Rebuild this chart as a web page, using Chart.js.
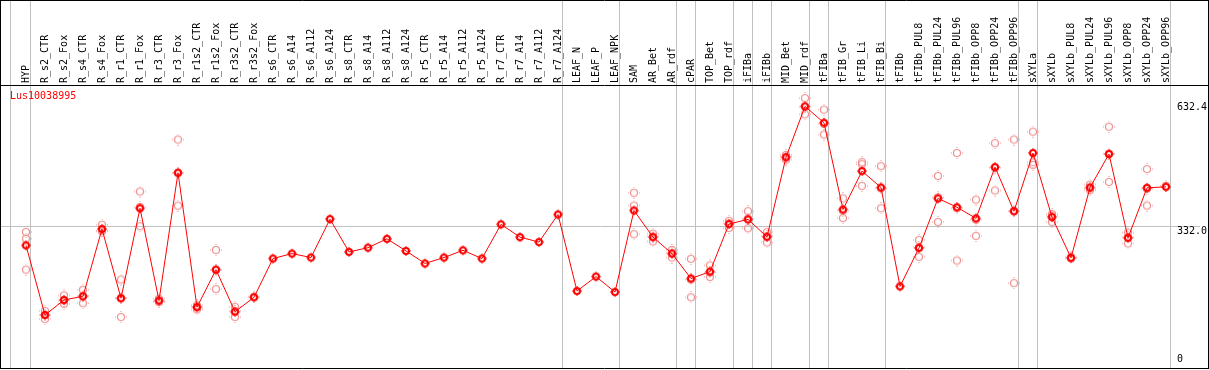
<!DOCTYPE html>
<html>
<head>
<meta charset="utf-8">
<script src="https://cdn.jsdelivr.net/npm/chart.js@4/dist/chart.umd.min.js"></script>
<style>
  body { margin: 0; background: #fff; }
  canvas { display: block; }
</style>
</head>
<body>
<canvas id="exprChart" width="1209" height="370"></canvas>
<script>
const geneName = 'Lus10038995';

const categories = [
  'HYP', 'R_s2_CTR', 'R_s2_Fox', 'R_s4_CTR', 'R_s4_Fox', 'R_r1_CTR', 'R_r1_Fox', 'R_r3_CTR', 'R_r3_Fox',
  'R_r1s2_CTR', 'R_r1s2_Fox', 'R_r3s2_CTR', 'R_r3s2_Fox', 'R_s6_CTR', 'R_s6_A14', 'R_s6_A112', 'R_s6_A124',
  'R_s8_CTR', 'R_s8_A14', 'R_s8_A112', 'R_s8_A124', 'R_r5_CTR', 'R_r5_A14', 'R_r5_A112', 'R_r5_A124',
  'R_r7_CTR', 'R_r7_A14', 'R_r7_A112', 'R_r7_A124', 'LEAF_N', 'LEAF_P', 'LEAF_NPK', 'SAM', 'AR_Bet', 'AR_rdf',
  'cPAR', 'TOP_Bet', 'TOP_rdf', 'iFIBa', 'iFIBb', 'MID_Bet', 'MID_rdf', 'tFIBa', 'tFIB_Gr', 'tFIB_Li', 'tFIB_Bi',
  'tFIBb', 'tFIBb_PUL8', 'tFIBb_PUL24', 'tFIBb_PUL96', 'tFIBb_OPP8', 'tFIBb_OPP24', 'tFIBb_OPP96',
  'sXYLa', 'sXYLb', 'sXYLb_PUL8', 'sXYLb_PUL24', 'sXYLb_PUL96', 'sXYLb_OPP8', 'sXYLb_OPP24', 'sXYLb_OPP96'
];

// mean expression per sample
const means = [
  285.6, 116.8, 153.4, 162.2, 325.5, 157.5, 375.7, 151.8, 461.8,
  136.0, 226.8, 124.8, 159.9, 253.8, 265.8, 256.2, 349.4,
  269.8, 280.1, 301.6, 272.2, 241.9, 256.2, 273.7, 253.8,
  336.7, 305.7, 293.7, 360.6, 175.0, 210.0, 172.6, 370.2, 305.7, 265.8,
  205.3, 222.0, 337.5, 348.7, 306.4, 499.3, 622.6, 582.9, 372.6, 465.8, 425.9,
  186.2, 279.4, 399.6, 378.1, 351.1, 475.4, 368.5,
  509.6, 354.2, 255.5, 425.9, 507.2, 304.0, 425.2, 427.6
];

// replicates (null = not shown)
const rep1 = [
  318, 127, 164.6, 178, 335.8, 202.9, 416.3, 156.5, 542.3,
  140.7, 274.6, 136.7, 161, null, null, null, null,
  null, null, null, null, null, null, null, null,
  null, null, null, null, null, null, null, 413.2, 314.3, 274.6,
  253.1, 237.1, 345.4, 368.5, 317.6, 504.8, 642.7, 614.7, 399.6, 487.3, 477.8,
  null, 298.5, 453.9, 509.6, 396.5, 533.5, 542.3,
  561.4, 361.4, 257, 433, 573.4, 316.7, 470.6, 430
];
const rep2 = [
  302, 107, 143.9, 145.5, 320, 112, 332, 148.6, 382,
  130.3, 179.7, 112, null, null, null, null, null,
  null, null, null, null, null, null, null, null,
  null, null, null, null, null, null, null, 382.1, 295.2, 256.2,
  159.9, 209.1, 327.9, 327.2, 292.8, 493.5, 603.5, 554.2, 351.8, 482.5, 375.7,
  null, 257.9, 342.3, 249, 308.8, 418.7, 194.1,
  487.3, 342.3, 254, 419.5, 439.5, 290.4, 382.2, null
];
const rep3 = [
  227, 117, 152, 163, 321, 158, 379, 150, 461,
  137, 226, 126, null, null, null, null, null,
  null, null, null, null, null, null, null, null,
  null, null, null, null, null, null, null, 312.8, 307, 267,
  203, 220, 339, 350, 308, 500, 622, 580, 370, 430, 424,
  null, 281, 402, 376, 348, 474, 369,
  480.9, 358, null, 425, 508, 305, 423, null
];

const yTickValues = [0, 332.0, 632.4];
const yTickLabels = ['0', '332.0', '632.4'];

// last sample of each group -> separator line
const groupEnds = [0, 28, 31, 34, 35, 37, 38, 39, 41, 42, 45, 52, 53, 60];

const monoFont = '"DejaVu Sans Mono", monospace';

// small ring with 1px stubs
function makeMarker(color, lw, r) {
  let c = document.createElement('canvas');
  c.width = 12; c.height = 12;
  let g = c.getContext('2d');
  g.strokeStyle = color;
  g.fillStyle = color;
  g.lineWidth = lw;
  g.beginPath();
  g.arc(6, 6, r, 0, Math.PI * 2);
  g.stroke();
  let o = Math.floor(6 - r - lw / 2 - 1);
  g.fillRect(5.5, o, 1, 1);
  g.fillRect(5.5, 11 - o, 1, 1);
  g.fillRect(o, 5.5, 1, 1);
  g.fillRect(11 - o, 5.5, 1, 1);
  return c;
}

let repPoints = [];
[rep1, rep2, rep3].forEach(r => {
  r.forEach((v, i) => {
    if (v !== null) repPoints.push({ x: categories[i], y: v });
  });
});

const decor = {
  id: 'decor',
  beforeDatasetsDraw(chart) {
    let ctx = chart.ctx;
    let xs = chart.scales.x, ys = chart.scales.y;
    let H = chart.height;
    ctx.save();
    ctx.strokeStyle = '#c0c0c0';
    ctx.lineWidth = 1;
    ctx.beginPath();
    let x0 = Math.floor(xs.getPixelForValue(0) - 16) + 0.5;
    ctx.moveTo(x0, 0); ctx.lineTo(x0, H - 1);
    groupEnds.forEach(i => {
      let x = Math.floor(xs.getPixelForValue(i) + 4.5) + 0.5;
      ctx.moveTo(x, 0); ctx.lineTo(x, H - 1);
    });
    let gy = Math.floor(ys.getPixelForValue(332.0)) + 0.5;
    ctx.moveTo(1, gy); ctx.lineTo(1200, gy);
    ctx.stroke();
    ctx.restore();
  },
  afterDraw(chart) {
    let ctx = chart.ctx;
    let ys = chart.scales.y;
    let W = chart.width;
    ctx.save();
    ctx.font = '10px ' + monoFont;
    ctx.fillStyle = '#000';
    ctx.textAlign = 'left';
    yTickValues.forEach((v, k) => {
      let y = ys.getPixelForValue(v);
      if (v === 0) {
        ctx.textBaseline = 'bottom';
        ctx.fillText(yTickLabels[k], 1177, y + 1);
      } else {
        ctx.textBaseline = 'top';
        ctx.fillText(yTickLabels[k], 1177, y);
      }
    });
    ctx.fillStyle = '#ff0000';
    ctx.textBaseline = 'top';
    ctx.fillText(geneName, 10, 91);

    // frame
    ctx.strokeStyle = '#000';
    ctx.lineWidth = 1;
    ctx.beginPath();
    ctx.moveTo(0, 0.5); ctx.lineTo(W, 0.5);
    ctx.moveTo(0, 85.5); ctx.lineTo(W, 85.5);
    ctx.moveTo(0, 368.5); ctx.lineTo(W, 368.5);
    ctx.moveTo(0.5, 0); ctx.lineTo(0.5, 369);
    ctx.moveTo(W - 0.5, 0); ctx.lineTo(W - 0.5, 369);
    ctx.stroke();
    ctx.restore();
  }
};

let ctx = document.getElementById('exprChart').getContext('2d');
let chart = new Chart(ctx, {
  type: 'line',
  data: {
    labels: categories,
    datasets: [
      {
        label: 'mean',
        data: means,
        borderColor: '#ff0000',
        borderWidth: 1,
        tension: 0,
        fill: false,
        pointStyle: makeMarker('#ff0000', 2, 3),
        pointRadius: 4,
        order: 1
      },
      {
        label: 'replicates',
        data: repPoints,
        showLine: false,
        pointStyle: makeMarker('#f09090', 1.2, 3.5),
        pointRadius: 4,
        order: 2
      }
    ]
  },
  plugins: [decor],
  options: {
    responsive: false,
    animation: false,
    devicePixelRatio: 1,
    layout: { padding: { left: 26, right: 0, top: 0, bottom: 1 } },
    plugins: {
      legend: { display: false },
      tooltip: { enabled: false }
    },
    scales: {
      x: {
        type: 'category',
        position: 'top',
        offset: false,
        grid: { display: false, drawTicks: false },
        border: { display: false },
        ticks: {
          autoSkip: false,
          minRotation: 90,
          maxRotation: 90,
          padding: 2,
          labelOffset: 12,
          color: '#000',
          font: { family: monoFont, size: 10 }
        },
        afterFit: s => { s.height = 85; }
      },
      y: {
        position: 'right',
        min: -4.3,
        max: 674.5,
        grid: { display: false },
        border: { display: false },
        ticks: { display: false },
        afterFit: s => { s.width = 43; }
      }
    }
  }
});
</script>
</body>
</html>
